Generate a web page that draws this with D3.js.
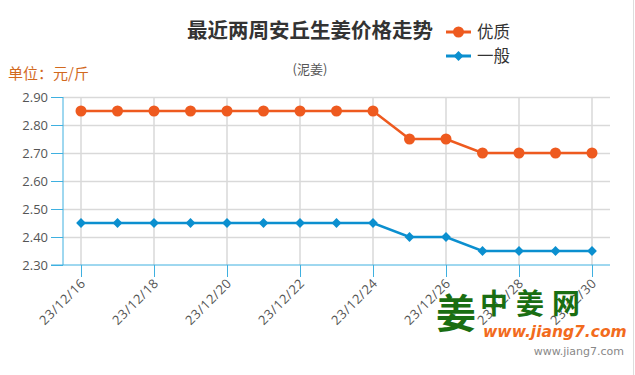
<!DOCTYPE html>
<html><head><meta charset="utf-8">
<script src="https://cdn.jsdelivr.net/npm/d3@7/dist/d3.min.js"></script>
<style>body{margin:0;background:#fff}svg{display:block}text{font-family:"Open Sans","Noto Sans CJK SC",sans-serif}</style>
</head><body><svg id="c" width="635" height="375"></svg>
<script>
const dates = ["23/12/16","23/12/17","23/12/18","23/12/19","23/12/20","23/12/21","23/12/22","23/12/23","23/12/24","23/12/25","23/12/26","23/12/27","23/12/28","23/12/29","23/12/30"];
const youzhi = [2.85,2.85,2.85,2.85,2.85,2.85,2.85,2.85,2.85,2.75,2.75,2.70,2.70,2.70,2.70];
const yiban = [2.45,2.45,2.45,2.45,2.45,2.45,2.45,2.45,2.45,2.40,2.40,2.35,2.35,2.35,2.35];
const yTicks = [2.30,2.40,2.50,2.60,2.70,2.80,2.90];
const tickDates = dates.filter((d,i)=>i%2===0);
const seriesNames = ["优质","一般"];
const colors = ["#ee5a1f","#0b8fcf"];

const svg = d3.select("#c");
const x = d3.scalePoint().domain(dates).range([81,592]);
const y = d3.scaleLinear().domain([2.30,2.90]).range([265,97]);
const axisColor = "#3fb0e0";

// right border
svg.append("line").attr("x1",633.5).attr("x2",633.5).attr("y1",0).attr("y2",375).attr("stroke","#ddd");

// grid
const g = svg.append("g");
g.selectAll(".hg").data(yTicks.slice(1)).join("line")
  .attr("x1",63).attr("x2",610).attr("y1",d=>Math.round(y(d))+0.5).attr("y2",d=>Math.round(y(d))+0.5)
  .attr("stroke","#d9d9d9").attr("stroke-width",1.5);
g.selectAll(".vg").data(tickDates).join("line")
  .attr("x1",d=>x(d)).attr("x2",d=>x(d)).attr("y1",97).attr("y2",265)
  .attr("stroke","#d9d9d9").attr("stroke-width",1.5);

// y axis
const ya = svg.append("g").attr("transform","translate(63,0)")
  .call(d3.axisLeft(y).tickValues(yTicks).tickFormat(d3.format(".2f")).tickSize(12).tickPadding(4));
ya.select(".domain").attr("stroke",axisColor).attr("d","M0,97V265");
ya.selectAll(".tick line").attr("stroke",axisColor);
ya.selectAll("text").attr("fill","#555").style("font-size","13px").style("font-family","'Open Sans',sans-serif").attr("dy","0.35em").attr("x",-15);

// x axis
const xa = svg.append("g").attr("transform","translate(0,265)")
  .call(d3.axisBottom(x).tickValues(tickDates).tickSize(12).tickPadding(4));
xa.select(".domain").attr("stroke",axisColor).attr("d","M51,0H610");
xa.selectAll(".tick line").attr("stroke",axisColor);
xa.selectAll("text").attr("fill","#555").style("font-size","13px").style("font-family","'Open Sans',sans-serif")
  .attr("text-anchor","end").attr("dy",0).attr("y",0).attr("letter-spacing","0.6px")
  .attr("transform","translate(5,19) rotate(-45)");

// watermark logo
const lg = svg.append("g");
lg.append("text").attr("x",436).attr("y",328).attr("fill","#1a6e12").style("font-size","40px").style("font-weight","bold").style("font-family","'Noto Sans CJK SC'").text("姜");
lg.append("text").attr("x",480).attr("y",314).attr("fill","#1a6e12").style("font-size","28px").style("font-weight","bold").style("font-family","'Noto Sans CJK SC'").attr("letter-spacing","8px").text("中姜网");
lg.append("text").attr("x",483).attr("y",337).attr("fill","#f26b1d").style("font-size","15.5px").style("font-weight","bold").style("font-style","italic").style("font-family","'DejaVu Sans'").text("www.jiang7.com");
svg.append("text").attr("x",624).attr("y",355).attr("text-anchor","end").attr("fill","#888").style("font-size","11px").style("font-family","'DejaVu Sans'").text("www.jiang7.com");

// lines
const line = d3.line().x((d,i)=>x(dates[i])).y(d=>y(d));
[youzhi,yiban].forEach((s,k)=>{
  svg.append("path").attr("d",line(s)).attr("fill","none").attr("stroke",colors[k]).attr("stroke-width",2.5);
});
svg.selectAll(".c1").data(youzhi).join("circle").attr("cx",(d,i)=>x(dates[i])).attr("cy",d=>y(d)).attr("r",5.5).attr("fill",colors[0]);
const dia = d3.symbol().type(d3.symbolSquare).size(48);
svg.selectAll(".c2").data(yiban).join("path").attr("d",dia)
  .attr("transform",(d,i)=>`translate(${x(dates[i])},${y(d)}) rotate(45)`).attr("fill",colors[1]);

// titles
svg.append("text").attr("x",310).attr("y",38).attr("text-anchor","middle").attr("fill","#333").style("font-size","20.5px").style("font-weight","bold").style("font-family","'Noto Sans CJK SC'").text("最近两周安丘生姜价格走势");
svg.append("text").attr("x",310).attr("y",74).attr("text-anchor","middle").attr("fill","#555").style("font-size","13px").style("font-family","'Noto Sans CJK SC'").text("(泥姜)");
svg.append("text").attr("x",8).attr("y",79).attr("fill","#d2691e").style("font-size","15px").style("font-family","'Noto Sans CJK SC'").text("单位：元/斤");

// legend
seriesNames.forEach((n,k)=>{
  const ly = 32 + k*24;
  svg.append("line").attr("x1",446).attr("x2",471).attr("y1",ly).attr("y2",ly).attr("stroke",colors[k]).attr("stroke-width",3);
  if(k===0) svg.append("circle").attr("cx",458.5).attr("cy",ly).attr("r",5.5).attr("fill",colors[k]);
  else svg.append("path").attr("d",dia).attr("transform",`translate(458.5,${ly}) rotate(45)`).attr("fill",colors[k]);
  svg.append("text").attr("x",477).attr("y",ly+6).attr("fill","#333").style("font-size","16.5px").style("font-family","'Noto Sans CJK SC'").text(n);
});
</script></body></html>
